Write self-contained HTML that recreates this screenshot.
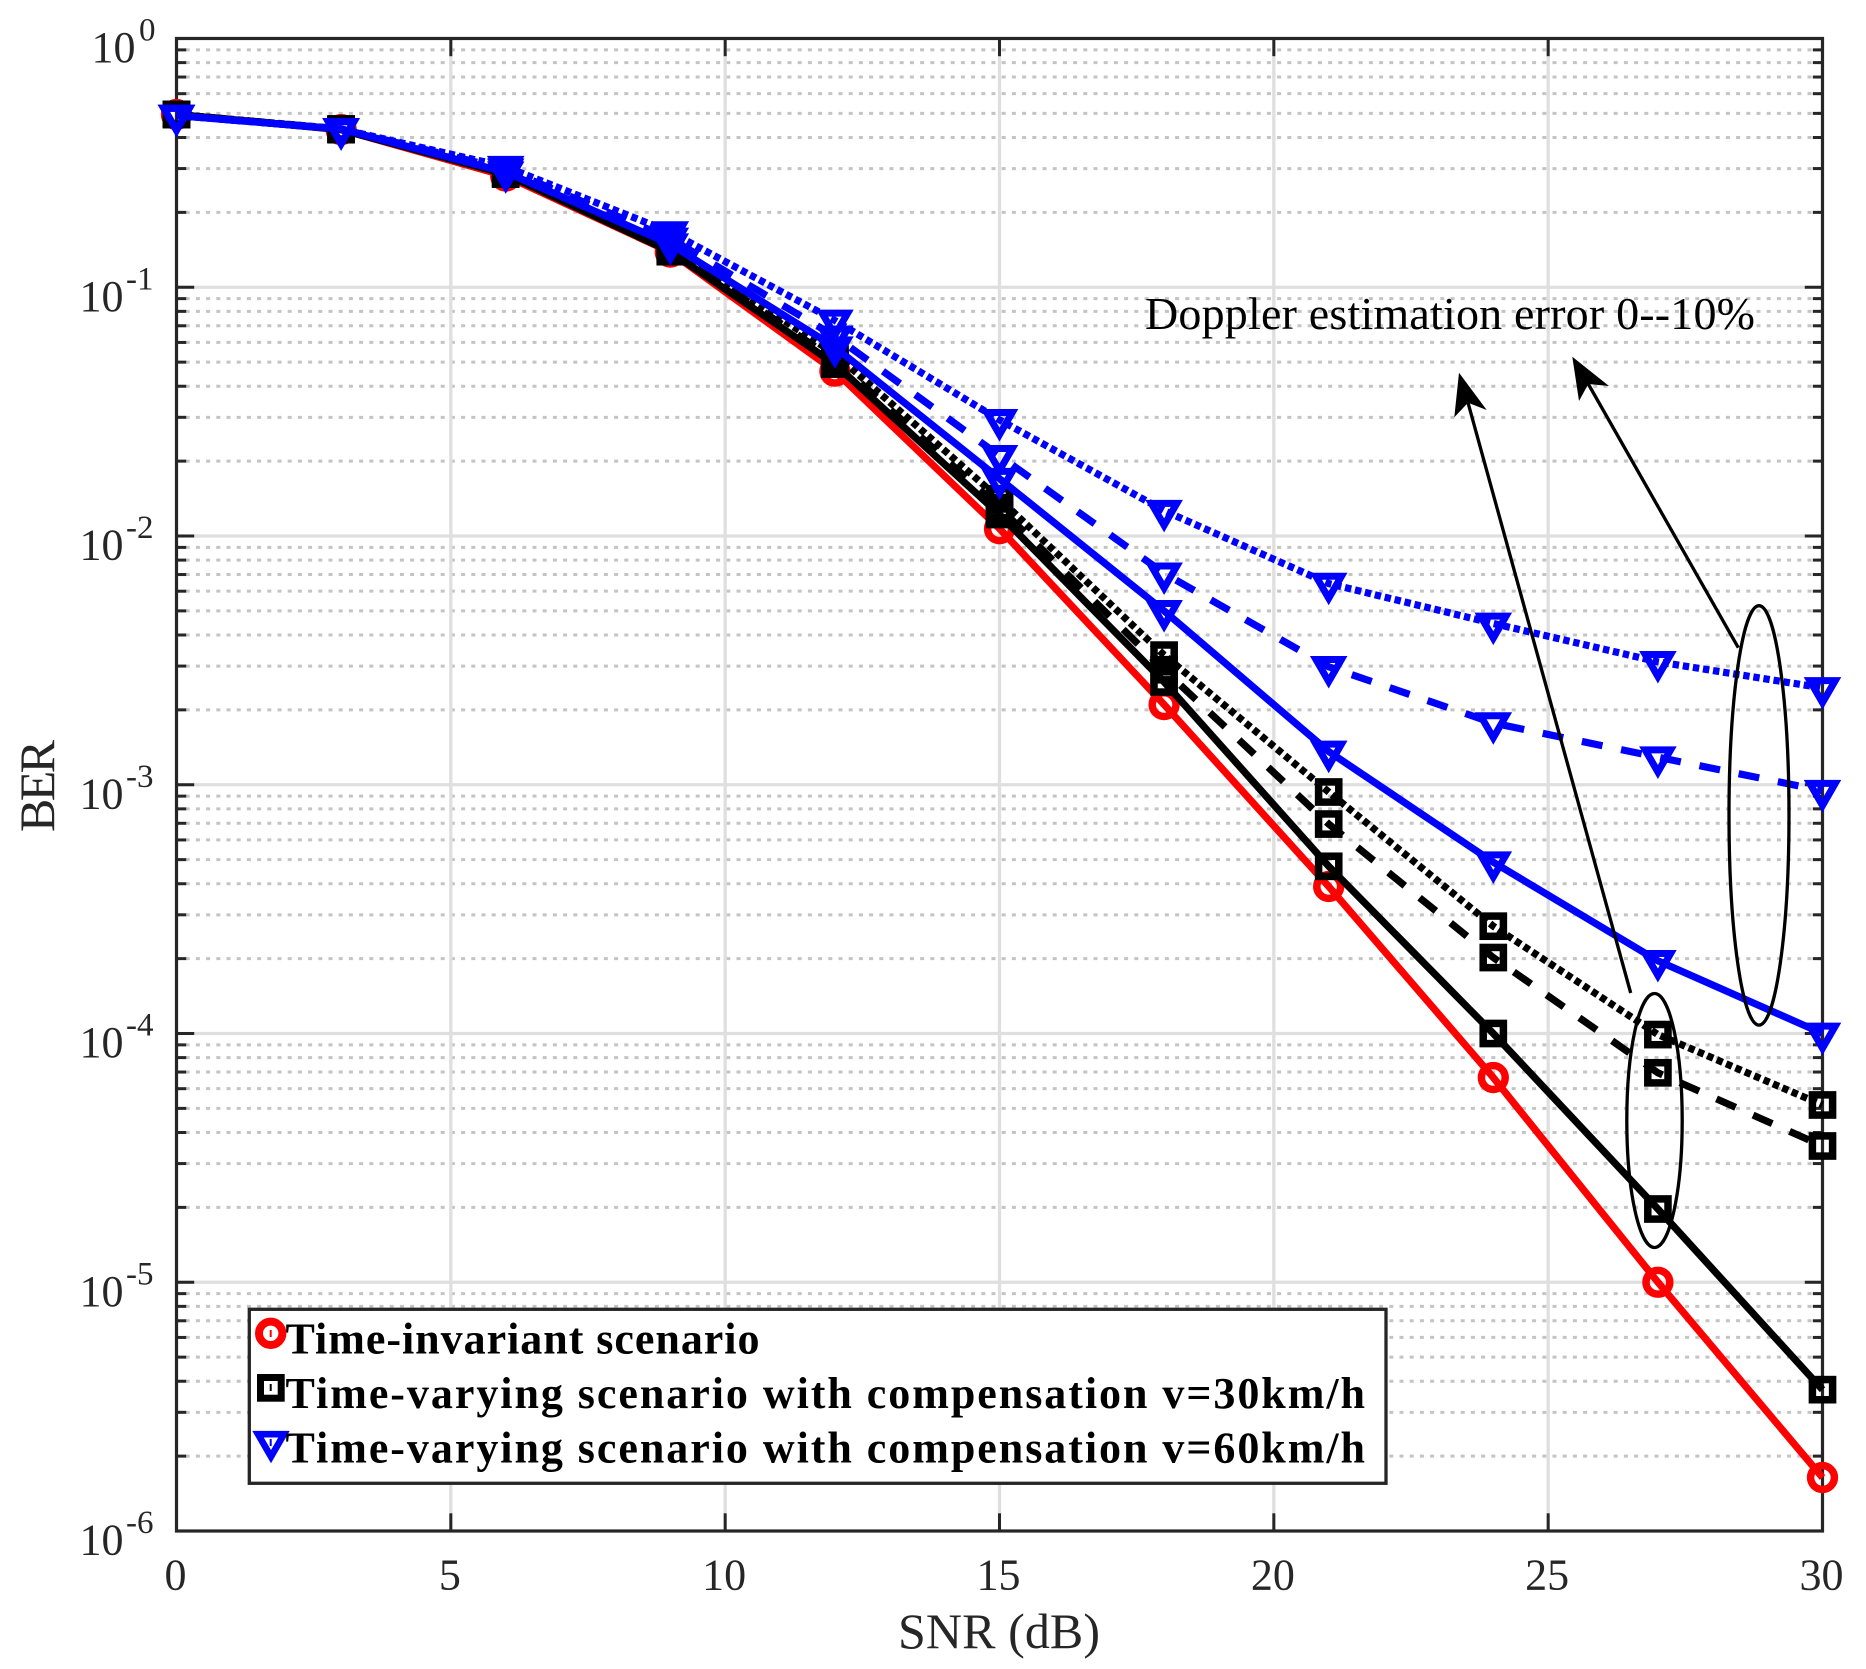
<!DOCTYPE html>
<html>
<head>
<meta charset="utf-8">
<title>BER vs SNR</title>
<style>
html,body{margin:0;padding:0;background:#fff;}
svg{display:block;}
text{font-family:"Liberation Serif",serif;}
</style>
</head>
<body>
<svg id="chart" xmlns="http://www.w3.org/2000/svg" width="1866" height="1669" viewBox="0 0 1866 1669">
  <rect x="0" y="0" width="1866" height="1669" fill="#ffffff"/>
  <g id="grid"></g>
  <g id="axes"></g>
  <g id="series"></g>

  <g fill="none" stroke="#000" stroke-width="3.3">
    <ellipse cx="1759" cy="815.4" rx="30" ry="209.7"/>
    <ellipse cx="1654.5" cy="1120.5" rx="27.7" ry="127"/>
    <line x1="1630.7" y1="993" x2="1468" y2="402.7"/>
    <polygon points="1459,372.7 1454.3,417.3 1468,402.7 1486.7,410" fill="#000" stroke="none"/>
    <line x1="1738.3" y1="647.7" x2="1588.3" y2="384"/>
    <polygon points="1572.3,356.7 1579,401 1588.3,384 1609,386" fill="#000" stroke="none"/>
  </g>
  <text x="1145" y="329" font-size="46" fill="#000" textLength="610" lengthAdjust="spacing">Doppler estimation error 0--10%</text>

  <text x="999" y="1648" font-size="50" fill="#262626" text-anchor="middle" textLength="202" lengthAdjust="spacing">SNR (dB)</text>
  <text transform="translate(54,786) rotate(-90)" font-size="50" fill="#262626" text-anchor="middle" textLength="92" lengthAdjust="spacing">BER</text>

  <g id="legend">
    <rect x="249.3" y="1309.3" width="1136.7" height="174" fill="#fff" stroke="#262626" stroke-width="3.3"/>
    <g>
      <circle cx="270.7" cy="1333.3" r="11.7" fill="none" stroke="#ff0000" stroke-width="8"/>
      <rect x="269.7" y="1330" width="2" height="7" fill="#ff0000"/>
      <text x="285.5" y="1353.7" font-size="44" font-weight="bold" fill="#000" textLength="474" lengthAdjust="spacing">Time-invariant scenario</text>
    </g>
    <g>
      <rect x="260.5" y="1377.5" width="20.7" height="20.7" fill="none" stroke="#000" stroke-width="7"/>
      <rect x="269.7" y="1384" width="2" height="7" fill="#000"/>
      <text x="285.5" y="1408" font-size="44" font-weight="bold" fill="#000" textLength="1079.5" lengthAdjust="spacing">Time-varying scenario with compensation v=30km/h</text>
    </g>
    <g>
      <polygon points="271,1456.7 258,1434.2 284,1434.2" fill="none" stroke="#0000ff" stroke-width="6.6" stroke-linejoin="miter"/>
      <rect x="269.7" y="1439" width="2" height="7" fill="#0000ff"/>
      <text x="285.5" y="1462.3" font-size="44" font-weight="bold" fill="#000" textLength="1079.5" lengthAdjust="spacing">Time-varying scenario with compensation v=60km/h</text>
    </g>
  </g>
</svg>

<script>
// ---- chart data ----
const snrValues = [0, 3, 6, 9, 12, 15, 18, 21, 24, 27, 30];
const berTimeInvariant = [0.495, 0.43, 0.28, 0.1385, 0.046, 0.0107, 0.0021, 3.9e-4, 6.65e-5, 1.0e-5, 1.64e-6];
const berV30Solid = [0.495, 0.43, 0.285, 0.139, 0.0491, 0.0122, 0.00259, 4.7e-4, 1.0e-4, 1.97e-5, 3.7e-6];
const berV30Dashed = [0.495, 0.432, 0.286, 0.142, 0.051, 0.013, 0.0029, 6.95e-4, 2.02e-4, 6.95e-5, 3.53e-5];
const berV30Dotted = [0.495, 0.433, 0.287, 0.146, 0.054, 0.0141, 0.00332, 9.35e-4, 2.7e-4, 9.9e-5, 5.16e-5];
const berV60Solid = [0.49, 0.4326, 0.29, 0.149, 0.0574, 0.017, 0.005, 0.00136, 4.88e-4, 1.96e-4, 1.0e-4];
const berV60Dashed = [0.49, 0.4326, 0.298, 0.157, 0.0635, 0.021, 0.00708, 0.00298, 0.00177, 0.00129, 9.46e-4];
const berV60Dotted = [0.49, 0.4326, 0.305, 0.1667, 0.0735, 0.0293, 0.01264, 0.00644, 0.00445, 0.00312, 0.00245];
const xTickLabels = [0, 5, 10, 15, 20, 25, 30];
const yTickExponents = [0, -1, -2, -3, -4, -5, -6];
const yMinorMultipliers = [2, 3, 4, 5, 6, 7, 8, 9];

// ---- plot frame and axis functions ----
const LEFT = 176.5, RIGHT = 1822.5, TOP = 38.5, BOTTOM = 1531;
const X_MIN = 0, X_MAX = 30, LOG_MAX = 0, LOG_MIN = -6;
function xScale(v) { return LEFT + (v - X_MIN) / (X_MAX - X_MIN) * (RIGHT - LEFT); }
function yScale(v) { return TOP + (LOG_MAX - Math.log10(v)) / (LOG_MAX - LOG_MIN) * (BOTTOM - TOP); }

const NS = 'http://www.w3.org/2000/svg';
function make(parent, tag, attrs, content) {
  const node = document.createElementNS(NS, tag);
  for (const k in attrs) node.setAttribute(k, attrs[k]);
  if (content !== undefined) node.textContent = content;
  parent.appendChild(node);
  return node;
}

const gridG = document.getElementById('grid');
const axesG = document.getElementById('axes');
const seriesG = document.getElementById('series');
const AXIS = '#262626';

// ---- grid ----
yTickExponents.forEach(function (exp) {
  if (exp > LOG_MIN) {
    yMinorMultipliers.forEach(function (m) {
      const y = yScale(m * Math.pow(10, exp - 1));
      const el = make(gridG, 'line', { x1: 175.5, x2: RIGHT, y1: y, y2: y, stroke: '#c4c4c4', 'stroke-width': 3, 'stroke-dasharray': '4 6.2' });
      
      
    });
  }
  if (exp < LOG_MAX && exp > LOG_MIN) {
    const y = yScale(Math.pow(10, exp));
    const el = make(gridG, 'line', { x1: LEFT, x2: RIGHT, y1: y, y2: y, stroke: '#dfdfdf', 'stroke-width': 3.3 });
    
    
  }
});
xTickLabels.forEach(function (v) {
  if (v > X_MIN && v < X_MAX) {
    const x = xScale(v);
    const el = make(gridG, 'line', { x1: x, x2: x, y1: TOP, y2: BOTTOM, stroke: '#dfdfdf', 'stroke-width': 3.3 });
    
    
  }
});

// ---- axes, ticks, tick labels ----
const frame = make(axesG, 'rect', { x: LEFT, y: TOP, width: RIGHT - LEFT, height: BOTTOM - TOP, fill: 'none', stroke: AXIS, 'stroke-width': 3.2 });



function tick(x1, y1, x2, y2, name) {
  const el = make(axesG, 'line', { x1: x1, y1: y1, x2: x2, y2: y2, stroke: AXIS, 'stroke-width': 3 });
  
  
}

xTickLabels.forEach(function (v) {
  const x = xScale(v);
  tick(x, BOTTOM, x, BOTTOM - 17.7, 'x-tick');
  tick(x, TOP, x, TOP + 17.7, 'x-tick-top');
  const label = make(axesG, 'text', { x: x - 1, y: 1589.5, 'font-size': 44, fill: AXIS, 'text-anchor': 'middle' }, String(v));
  
  
});

yTickExponents.forEach(function (exp) {
  const y = yScale(Math.pow(10, exp));
  tick(LEFT, y, LEFT + 17.7, y, 'y-tick');
  tick(RIGHT, y, RIGHT - 17.7, y, 'y-tick-right');
  const base = make(axesG, 'text', { x: exp === 0 ? 135.5 : 123.5, y: y + 23.6, 'font-size': 44, fill: AXIS, 'text-anchor': 'end' }, '10');
  
  
  const sup = make(axesG, 'text', { x: exp === 0 ? 139 : 126, y: y + 2, 'font-size': 33, fill: AXIS }, String(exp));
  
  
  if (exp > LOG_MIN) {
    yMinorMultipliers.forEach(function (m) {
      const my = yScale(m * Math.pow(10, exp - 1));
      tick(LEFT, my, LEFT + 9.7, my, 'y-minor-tick');
      tick(RIGHT, my, RIGHT - 9.7, my, 'y-minor-tick-right');
    });
  }
});

// ---- series ----
const LINE_W = 7.2;
const DASH = '21 19';
const DOT = '6.4 3.8';

function drawSeries(name, values, color, dash, dashOffset, markerKind) {
  const group = make(seriesG, 'g', {});
  
  

  const pts = values.map(function (v, i) { return xScale(snrValues[i]).toFixed(2) + ',' + yScale(v).toFixed(2); }).join(' ');
  const lineAttrs = { points: pts, fill: 'none', stroke: color, 'stroke-width': LINE_W, 'stroke-linejoin': 'miter' };
  if (dash) {
    lineAttrs['stroke-dasharray'] = dash;
    lineAttrs['stroke-dashoffset'] = dashOffset;
  }
  const line = make(group, 'polyline', lineAttrs);
  
  

  values.forEach(function (v, i) {
    const x = xScale(snrValues[i]);
    const y = yScale(v);
    let m;
    if (markerKind === 'circle') {
      m = make(group, 'circle', { cx: x, cy: y, r: 11.9, fill: 'none', stroke: color, 'stroke-width': 7.5 });
    } else if (markerKind === 'square') {
      m = make(group, 'rect', { x: x - 10.1, y: y - 10.1, width: 20.2, height: 20.2, fill: 'none', stroke: color, 'stroke-width': 7.5 });
    } else {
      const r = 14.7;
      const p = [[x, y + r], [x - 0.866 * r, y - r / 2], [x + 0.866 * r, y - r / 2]].map(function (q) { return q[0].toFixed(2) + ',' + q[1].toFixed(2); }).join(' ');
      m = make(group, 'polygon', { points: p, fill: 'none', stroke: color, 'stroke-width': 7, 'stroke-linejoin': 'miter' });
    }
    
    
  });
}

drawSeries('time-invariant', berTimeInvariant, '#ff0000', null, 0, 'circle');
drawSeries('v30-solid', berV30Solid, '#000000', null, 0, 'square');
drawSeries('v30-dashed', berV30Dashed, '#000000', DASH, 10, 'square');
drawSeries('v30-dotted', berV30Dotted, '#000000', DOT, 0, 'square');
drawSeries('v60-solid', berV60Solid, '#0000ff', null, 0, 'triangle');
drawSeries('v60-dashed', berV60Dashed, '#0000ff', DASH, 36, 'triangle');
drawSeries('v60-dotted', berV60Dotted, '#0000ff', DOT, 0, 'triangle');
</script>
</body>
</html>
